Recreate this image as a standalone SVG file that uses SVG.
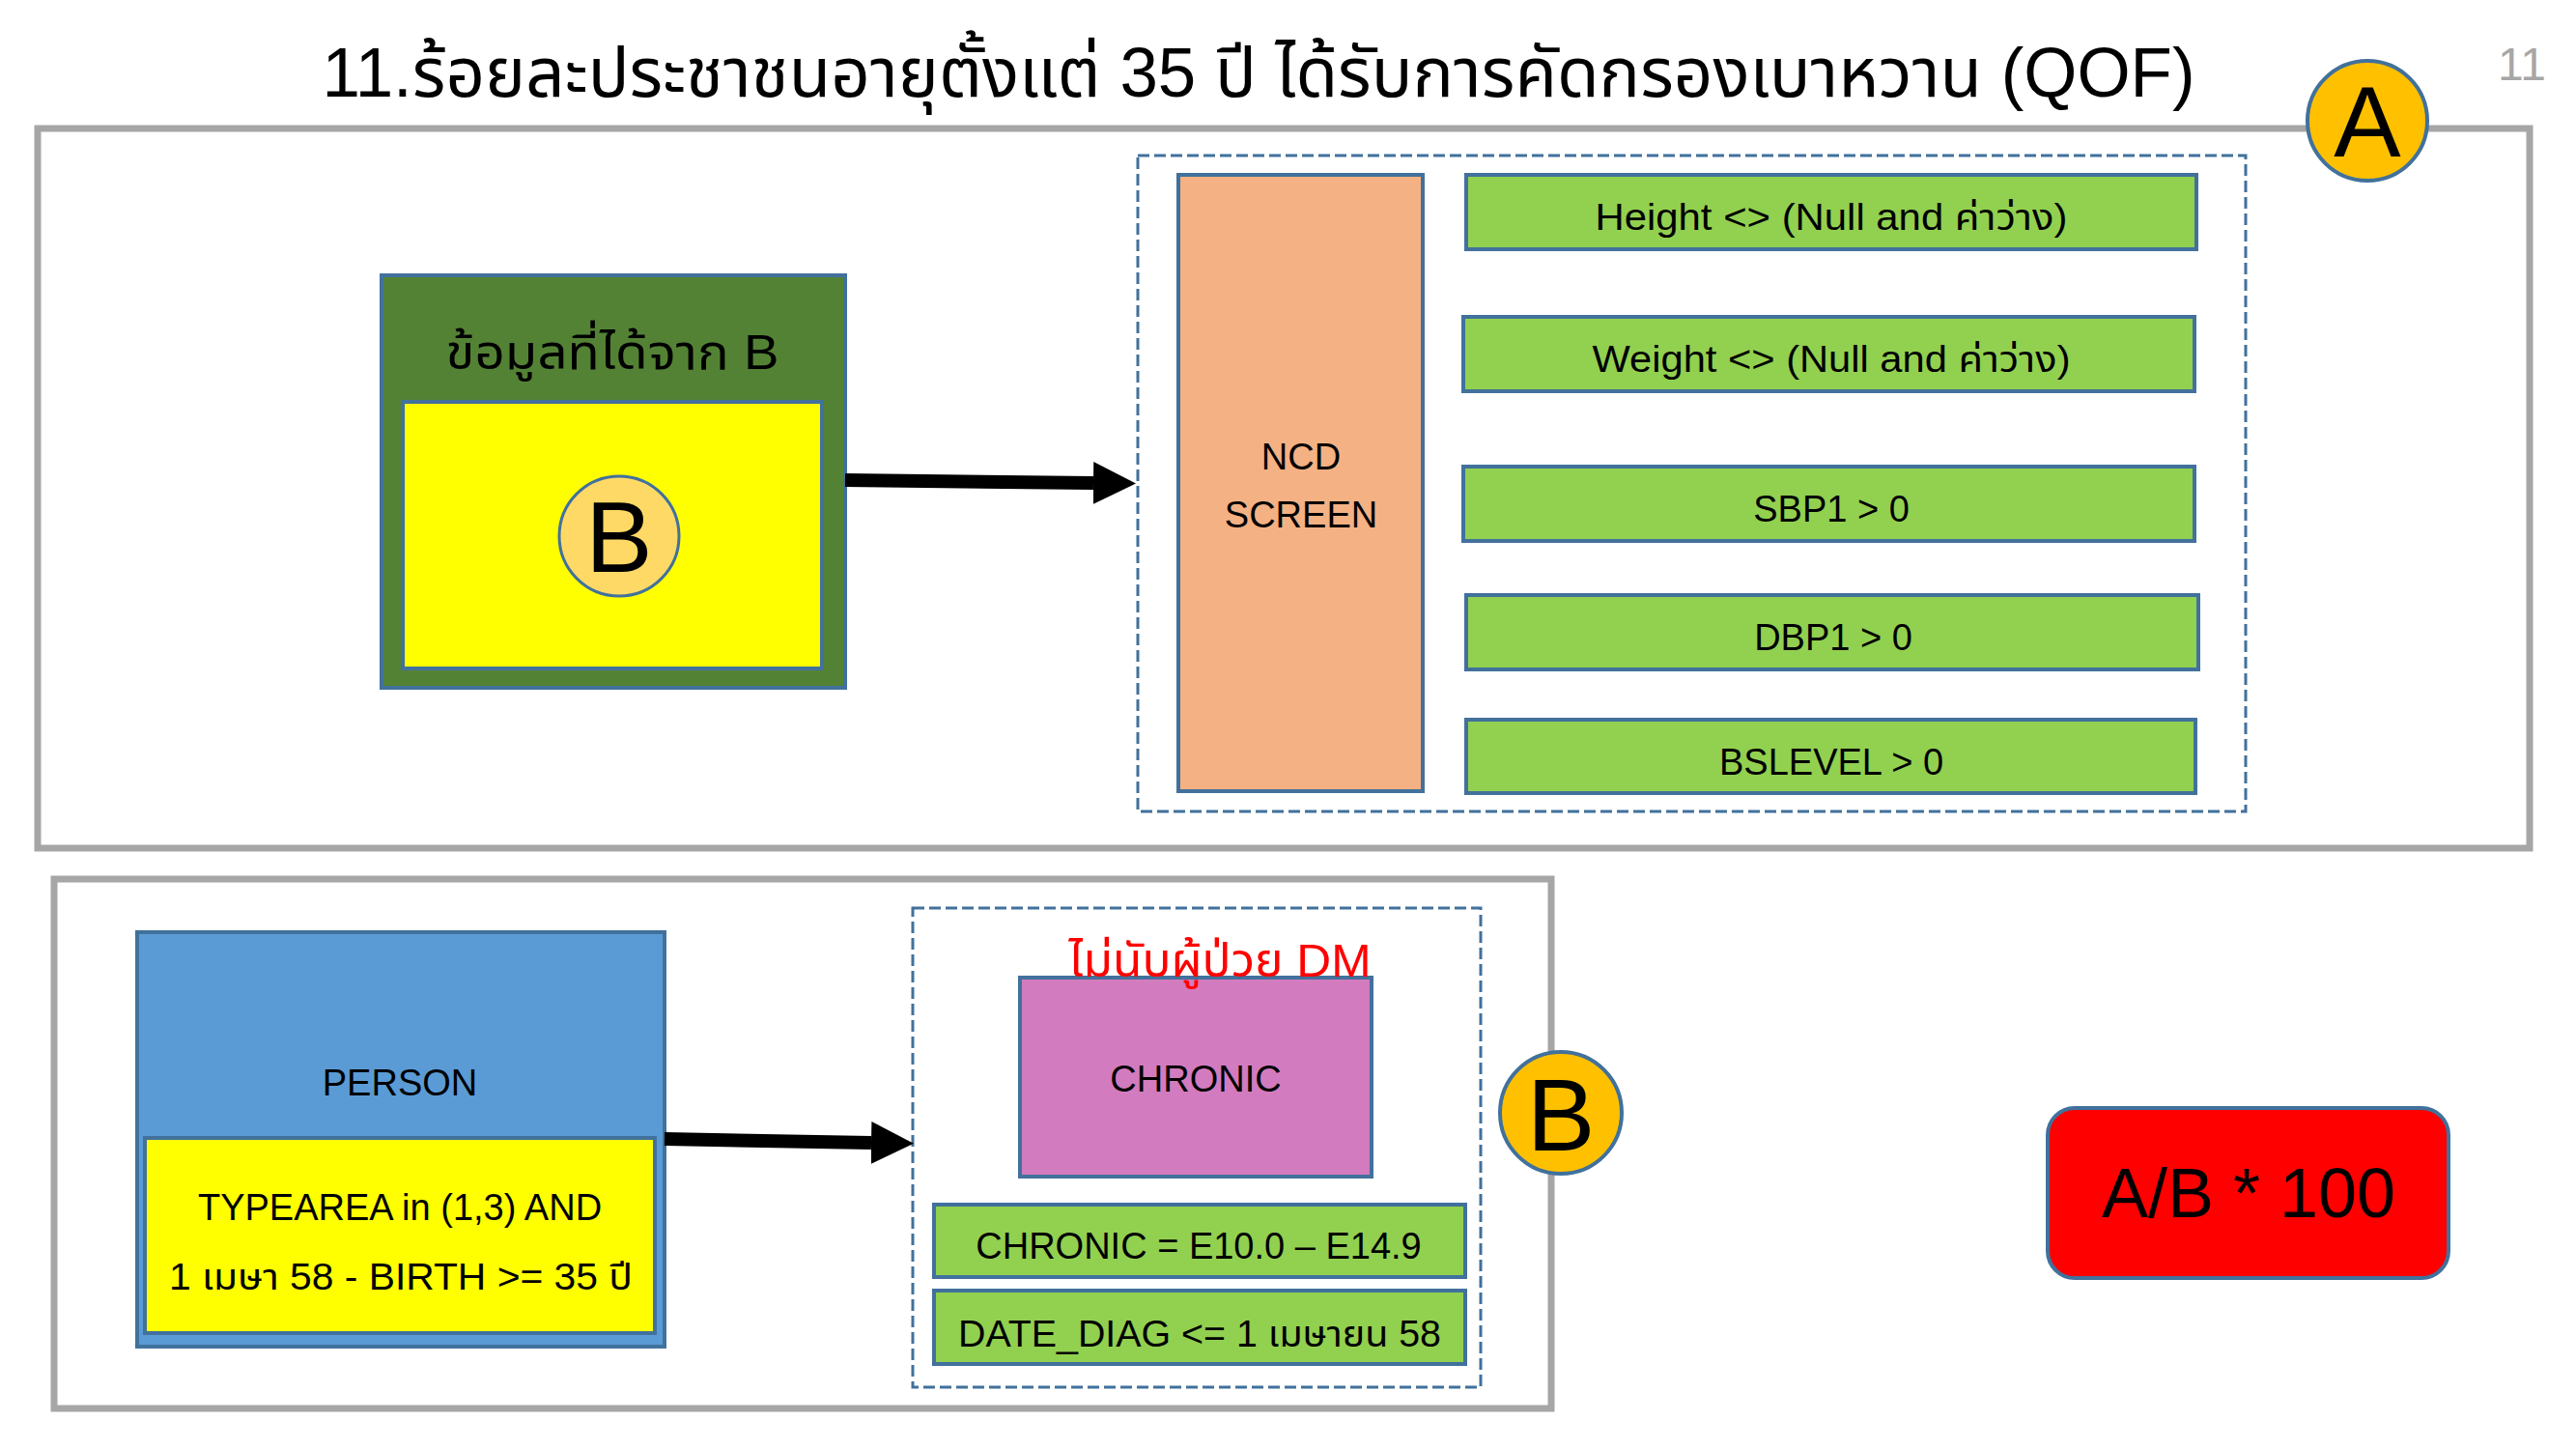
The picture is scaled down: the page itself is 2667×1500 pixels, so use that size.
<svg xmlns="http://www.w3.org/2000/svg" width="2667" height="1500" viewBox="0 0 2667 1500">
<defs>
<style>
.t{font-family:"Liberation Sans","Noto Sans Thai","Noto Sans","DejaVu Sans",sans-serif;fill:#000;text-anchor:middle}
.frame{fill:#fff;stroke:#a6a6a6;stroke-width:7}
.dash{fill:none;stroke:#41719c;stroke-width:3;stroke-dasharray:12 5}
.box{stroke:#41719c;stroke-width:4}
.g{fill:#92d050}
.lbl{font-size:38px}
.conn{stroke:#000;stroke-width:14;fill:none}
</style>
<marker id="ah" markerUnits="userSpaceOnUse" markerWidth="44" markerHeight="44" viewBox="0 0 44 44" refX="0" refY="22" orient="auto">
<path d="M0,0 L44,22 L0,44 Z" fill="#000"/>
</marker>
</defs>
<rect width="2667" height="1500" fill="#fff"/>
<text class="t" x="1303" y="100" font-size="72" textLength="1939" lengthAdjust="spacingAndGlyphs">11.ร้อยละประชาชนอายุตั้งแต่ 35 ปี ได้รับการคัดกรองเบาหวาน (QOF)</text>
<text class="t" x="2611" y="83" font-size="48" style="fill:#a6a6a6">11</text>

<g id="frameA"><rect class="frame" x="39" y="133" width="2580" height="745"/></g>
<g id="frameB"><rect class="frame" x="56" y="910" width="1550" height="548"/></g>

<g id="circleA">
<circle cx="2451" cy="125" r="62" fill="#ffc000" stroke="#41719c" stroke-width="4"/>
<text class="t" x="2451" y="162" font-size="104">A</text>
</g>

<g id="sourceB">
<rect class="box" x="395" y="285" width="480" height="427" fill="#548235"/>
<text class="t" x="634" y="382" font-size="50" textLength="345" lengthAdjust="spacingAndGlyphs">ข้อมูลที่ได้จาก B</text>
<rect class="box" x="417" y="416" width="434" height="276" fill="#ffff00"/>
<circle cx="641" cy="555" r="62" fill="#ffd966" stroke="#41719c" stroke-width="3"/>
<text class="t" x="641" y="592" font-size="104">B</text>
</g>

<g id="ncdGroup"><rect class="dash" x="1178" y="161" width="1147" height="679"/></g>

<g id="ncd">
<rect class="box" x="1220" y="181" width="253" height="638" fill="#f4b183"/>
<text class="t lbl" x="1347" y="486">NCD</text>
<text class="t lbl" x="1347" y="546">SCREEN</text>
</g>
<g id="height"><rect class="box g" x="1518" y="181" width="756" height="77"/><text class="t lbl" x="1896" y="238" textLength="489" lengthAdjust="spacingAndGlyphs">Height &lt;&gt; (Null and ค่าว่าง)</text></g>
<g id="weight"><rect class="box g" x="1515" y="328" width="757" height="77"/><text class="t lbl" x="1896" y="385" textLength="495" lengthAdjust="spacingAndGlyphs">Weight &lt;&gt; (Null and ค่าว่าง)</text></g>
<g id="sbp"><rect class="box g" x="1515" y="483" width="757" height="77"/><text class="t lbl" x="1896" y="540">SBP1 &gt; 0</text></g>
<g id="dbp"><rect class="box g" x="1518" y="616" width="758" height="77"/><text class="t lbl" x="1898" y="673">DBP1 &gt; 0</text></g>
<g id="bslevel"><rect class="box g" x="1518" y="745" width="755" height="76"/><text class="t lbl" x="1896" y="802">BSLEVEL &gt; 0</text></g>

<g id="person">
<rect class="box" x="142" y="965" width="546" height="429" fill="#5b9bd5"/>
<text class="t lbl" x="414" y="1134">PERSON</text>
<rect class="box" x="150" y="1178" width="528" height="202" fill="#ffff00"/>
<text class="t lbl" x="414" y="1263">TYPEAREA in (1,3) AND</text>
<text class="t lbl" x="415" y="1335" textLength="480" lengthAdjust="spacingAndGlyphs">1 เมษา 58 - BIRTH &gt;= 35 ปี</text>
</g>

<g id="chronicGroup"><rect class="dash" x="945" y="940" width="588" height="496"/></g>
<g id="chronic">
<rect class="box" x="1056" y="1012" width="364" height="206" fill="#d37bbf"/>
<text class="t lbl" x="1238" y="1130" font-size="40">CHRONIC</text>
</g>
<g id="excludeNote"><text class="t" x="1263" y="1011" font-size="48" textLength="313" lengthAdjust="spacingAndGlyphs" style="fill:#ff0000">ไม่นับผู้ป่วย DM</text></g>
<g id="chronicCode"><rect class="box g" x="967" y="1247" width="550" height="75"/><text class="t lbl" x="1241" y="1303">CHRONIC = E10.0 – E14.9</text></g>
<g id="dateDiag"><rect class="box g" x="967" y="1336" width="550" height="76"/><text class="t lbl" x="1242" y="1394" textLength="500" lengthAdjust="spacingAndGlyphs">DATE_DIAG &lt;= 1 เมษายน 58</text></g>

<g id="circleB">
<circle cx="1616" cy="1152" r="63" fill="#ffc000" stroke="#41719c" stroke-width="4"/>
<text class="t" x="1616" y="1191" font-size="106">B</text>
</g>

<g id="formula">
<rect x="2120" y="1147" width="415" height="176" rx="28" fill="#ff0000" stroke="#41719c" stroke-width="4"/>
<text class="t" x="2328" y="1260" font-size="72">A/B * 100</text>
</g>

<g id="connectors">
<line class="conn" x1="875" y1="497" x2="1132" y2="500" marker-end="url(#ah)"/>
<line class="conn" x1="688" y1="1179" x2="902" y2="1183" marker-end="url(#ah)"/>
</g>
</svg>
